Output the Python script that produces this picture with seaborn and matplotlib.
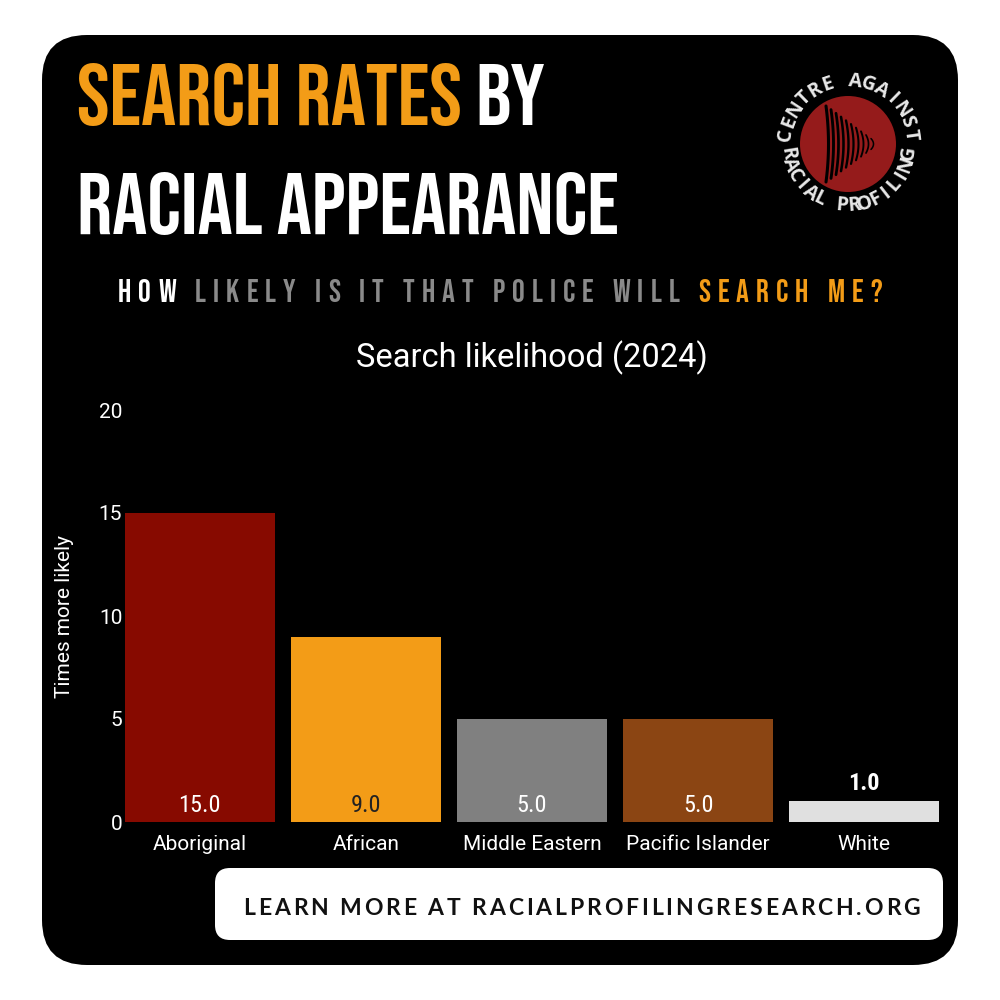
import numpy as np
import matplotlib
matplotlib.use("Agg")
import matplotlib.pyplot as plt
from matplotlib.patches import FancyBboxPatch, Circle
import pandas as pd
import seaborn as sns

#------------------chart data-------------------
groups = ["Aboriginal", "African", "Middle Eastern", "Pacific Islander", "White"]
likelihood = [15.0, 9.0, 5.0, 5.0, 1.0]
bar_colors = ["#870a00", "#f39c17", "#808080", "#8b4513", "#e0e0e0"]
label_colors = ["white", "#222222", "white", "white", "white"]
y_ticks = [0, 5, 10, 15, 20]

ORANGE = "#f39c17"
GREY = "#8a8a8a"
title_line1 = [("SEARCH RATES ", ORANGE), ("BY", "white")]
title_line2 = [("RACIAL APPEARANCE", "white")]
subtitle = [("HOW ", "white"), ("LIKELY IS IT THAT POLICE WILL ", GREY), ("SEARCH ME?", ORANGE)]
chart_title = "Search likelihood (2024)"
y_label = "Times more likely"
footer = "LEARN MORE AT RACIALPROFILINGRESEARCH.ORG"
logo_top = "CENTRE AGAINST"
logo_bottom = "RACIAL PROFILING"

sns.set_theme(style="white")
plt.rcParams['font.family'] = ["Roboto", "DejaVu Sans"]

DISPLAY = dict(family=["Bebas Neue", "Oswald", "DejaVu Sans"])

fig = plt.figure(figsize=(10, 10), dpi=100)
fig.patch.set_facecolor("white")
renderer = fig.canvas.get_renderer()

# black card
card = FancyBboxPatch((0.042 + 0.045, 0.035 + 0.045), 0.916 - 0.09, 0.93 - 0.09,
                      boxstyle="round,pad=0.045", transform=fig.transFigure,
                      facecolor="black", edgecolor="none", zorder=-1)
fig.patches.append(card)

def px(x, y):
    return x / 1000.0, 1 - y / 1000.0

def width_of(s, **kw):
    t = fig.text(0, 0, s, **kw)
    w = t.get_window_extent(renderer).width
    t.remove()
    return w

def fit_size(parts, target, **kw):
    full = "".join(p for p, c in parts)
    w = width_of(full, fontsize=50, **kw)
    return 50 * target / w

def draw_parts(parts, x0, y, size, **kw):
    # draw coloured pieces one after another
    full = ""
    for piece, color in parts:
        full += piece
        start = x0 + width_of(full, fontsize=size, **kw) - width_of(piece, fontsize=size, **kw)
        fig.text(*px(start, y), piece, color=color, fontsize=size, va="baseline", ha="left", **kw)

def draw_tracked(parts, x0, x1, y, size, **kw):
    # letter-spaced text, fitted between x0 and x1
    chars = []
    for piece, color in parts:
        for ch in piece:
            chars.append((ch, color))
    space = width_of("H H", fontsize=size, **kw) - width_of("HH", fontsize=size, **kw)
    adv = [space if ch == " " else width_of(ch, fontsize=size, **kw) for ch, c in chars]
    track = ((x1 - x0) - sum(adv)) / (len(chars) - 1)
    x = x0
    for (ch, color), a in zip(chars, adv):
        if ch != " ":
            fig.text(*px(x, y), ch, color=color, fontsize=size, va="baseline", ha="left", **kw)
        x += a + track

# header
s1 = fit_size(title_line1, 548 - 77, **DISPLAY)
s2 = fit_size(title_line2, 618 - 77, **DISPLAY)
size = (s1 + s2) / 2
draw_parts(title_line1, 77, 125, size, **DISPLAY)
draw_parts(title_line2, 77, 234, size, **DISPLAY)

draw_tracked(subtitle, 118, 882, 302, 23, **DISPLAY)

# footer button
btn = FancyBboxPatch((0.215 + 0.015, 0.060 + 0.015), 0.728 - 0.03, 0.072 - 0.03,
                     boxstyle="round,pad=0.015", transform=fig.transFigure,
                     facecolor="white", edgecolor="none", zorder=1)
fig.patches.append(btn)
draw_tracked([(footer, "#111111")], 243, 920, 915, 16.5, family=["Lato", "DejaVu Sans"], weight="bold")

# main chart
ax = fig.add_axes([0.125, 0.178, 0.814, 0.412])
ax.set_facecolor("black")
df = pd.DataFrame({"group": groups, "times": likelihood})
sns.barplot(data=df, x="group", y="times", hue="group", palette=bar_colors,
            legend=False, width=0.9, saturation=1, linewidth=0, ax=ax)
ax.set_xlim(-0.45, len(groups) - 0.55)
ax.set_ylim(0, 20)
ax.set_yticks(y_ticks)
for sp in ax.spines.values():
    sp.set_visible(False)
ax.tick_params(axis="both", length=0, colors="white", labelsize=15)
ax.tick_params(axis="x", pad=9)
ax.tick_params(axis="y", pad=2)
ax.set_xlabel("")
ax.set_ylabel(y_label, color="white", fontsize=15)
ax.yaxis.set_label_coords(-0.063, 0.5)
ax.grid(False)

for i, v in enumerate(likelihood):
    if v > 2:
        ax.text(i, 0.25, f"{v:.1f}", ha="center", va="bottom", color=label_colors[i], fontsize=17.5,
                family=["Roboto Condensed", "Roboto"])
    else:
        ax.text(i, v + 0.3, f"{v:.1f}", ha="center", va="bottom", color=label_colors[i],
                fontsize=17.5, fontweight="bold", family=["Roboto Condensed", "Roboto"])

fig.text(*px(532, 358), chart_title, color="white", fontsize=23.5, ha="center", va="center")

# logo
lx, ly = px(848 - 80, 144 + 80)
lax = fig.add_axes([lx, ly, 0.16, 0.16])
lax.set_xlim(-80, 80)
lax.set_ylim(-80, 80)
lax.axis("off")
lax.add_patch(Circle((0, 0), 48, facecolor="#951b1b", edgecolor="none"))
for k in range(10):
    xx = -22 + k * 5
    h = 38 * (1 - k / 10.5)
    yy = np.linspace(-h, h, 30)
    lax.plot(xx + 2.5 * (1 - (yy / h) ** 2), yy, color="black", lw=2.2 - k * 0.12,
             solid_capstyle="round")

LOGO_FONT = ["Open Sans", "DejaVu Sans"]
n = len(logo_top)
for i, ch in enumerate(logo_top):
    ang = np.deg2rad(172 - i * (164 / (n - 1)))
    lax.text(63 * np.cos(ang), 63 * np.sin(ang), ch, rotation=np.rad2deg(ang) - 90,
             ha="center", va="center", color="#e8e8e8", fontsize=14, fontweight="bold",
             family=LOGO_FONT)
n = len(logo_bottom)
for i, ch in enumerate(logo_bottom):
    ang = np.deg2rad(189 + i * (162 / (n - 1)))
    lax.text(62 * np.cos(ang), 62 * np.sin(ang), ch, rotation=np.rad2deg(ang) + 90,
             ha="center", va="center", color="#e8e8e8", fontsize=14, fontweight="bold",
             family=LOGO_FONT)

fig.savefig("out.png", dpi=100, facecolor=fig.get_facecolor())
